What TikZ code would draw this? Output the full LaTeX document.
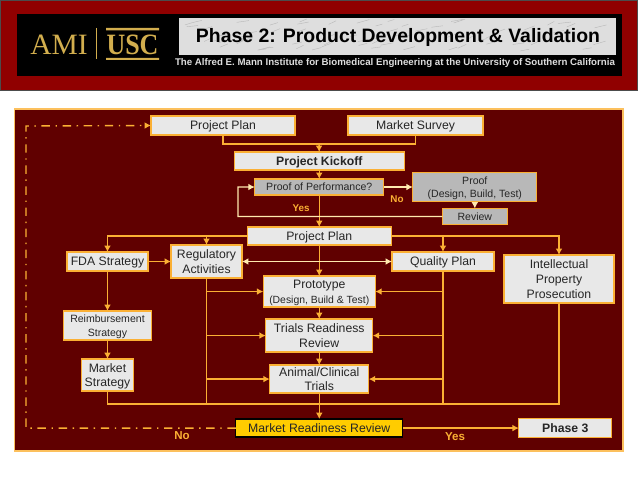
\documentclass[tikz,border=0pt]{standalone}
\usepackage{xcolor}
\usepackage{fontspec}
\setmainfont{Liberation Sans}
\newfontfamily\logofont{Liberation Serif}
\usetikzlibrary{positioning,arrows.meta,calc}
\definecolor{bannerRed}{HTML}{900000}
\definecolor{panelRed}{HTML}{600000}
\definecolor{lineOrange}{HTML}{FBB034}
\definecolor{linePale}{HTML}{FFE9AE}
\definecolor{boxGrey}{HTML}{E8E8E8}
\definecolor{proofGrey}{HTML}{B8B8B8}
\definecolor{marbleGrey}{HTML}{DEDEDE}
\definecolor{logoGold}{HTML}{D2AE4E}
\definecolor{reviewGold}{HTML}{FFCC00}

\begin{document}
\begin{tikzpicture}[
  x=0.025cm, y=-0.025cm,
  box/.style={rectangle, inner sep=0pt, outer sep=0pt, align=center, text depth=0pt, draw=lineOrange, line width=0.9pt, fill=boxGrey,
    font=\fontsize{8.7}{10.4}\selectfont, text=black!85},
  proofbox/.style={box, fill=proofGrey, font=\fontsize{7.5}{9}\selectfont},
  flow/.style={-{Latex[length=1.6mm,width=1.7mm]}, lineOrange, line width=1pt},
  link/.style={lineOrange, line width=1pt},
  pale/.style={-{Latex[length=1.6mm,width=1.7mm]}, linePale, line width=1pt},
  back/.style={-{Latex[length=1.6mm,width=1.7mm]}, lineOrange, line width=1pt, dash pattern=on 6pt off 4pt on 1pt off 4pt},
  lbl/.style={font=\bfseries\fontsize{8.2}{10}\selectfont, text=lineOrange}
]
  \useasboundingbox (0,0) rectangle (638,479);

  % banner
  \fill[bannerRed] (0,0) rectangle (638,90);
  \draw[black!70, line width=0.6pt] (0,0.5) rectangle (637.5,90);
  \fill[black] (17,14) rectangle (622,76);
  \fill[marbleGrey] (179,18) rectangle (616,55);
  \pgfmathsetseed{7}
  \foreach \i in {1,...,70}{
    \pgfmathsetmacro{\px}{185+rnd*415}
    \pgfmathsetmacro{\py}{21+rnd*30}
    \draw[gray!55, line width=0.3pt] (\px,\py) -- ++(6+rnd*7,-1-rnd*3);
  }
  \node[font=\bfseries\fontsize{13.8}{16}\selectfont] (title) at (398,37) {Phase 2: Product Development \& Validation};
  \node[font=\bfseries\fontsize{6.9}{8}\selectfont, text=marbleGrey] (subtitle) at (395,63)
    {The Alfred E. Mann Institute for Biomedical Engineering at the University of Southern California};
  \node[font=\logofont\fontsize{21}{22}\selectfont, text=logoGold, inner sep=0pt] (ami) at (59,45) {AMI};
  \node[font=\logofont\bfseries\fontsize{21}{22}\selectfont, text=logoGold, inner sep=0pt, xscale=0.88, transform shape] (usc) at (132.5,45) {USC};
  \draw[logoGold, line width=0.4pt] (96,28) -- (96,59);
  \fill[logoGold] (106,28) rectangle (159,30.5) (106,58) rectangle (159,60);

  % panel
  \draw[fill=panelRed, draw=lineOrange!80!white, line width=0.8pt] (14.5,109) rectangle (623,451);

  % centre column
  \node[box, minimum width=3.6cm, minimum height=0.475cm] (plan) at (223,125.5) {Project Plan};
  \node[box, minimum width=3.375cm, minimum height=0.475cm, right=1.325cm of plan] (survey) {Market Survey};
  \node[box, font=\bfseries\fontsize{8.7}{10.4}\selectfont, minimum width=4.25cm, minimum height=0.45cm,
    below=0.425cm of $(plan.south)!0.5!(survey.south)$] (kickoff) {Project Kickoff};
  \node[proofbox, minimum width=3.225cm, minimum height=0.4cm, below=0.225cm of kickoff] (perf) {Proof of Performance?};
  \node[proofbox, minimum width=3.1cm, minimum height=0.725cm, right=0.725cm of perf] (proof) {Proof\\(Design, Build, Test)};
  \node[proofbox, minimum width=1.625cm, minimum height=0.4cm, below=0.175cm of proof] (review) {Review};
  \node[box, minimum width=3.6cm, minimum height=0.45cm, below=0.8cm of perf] (plantwo) {Project Plan};
  \node[box, minimum width=2.8cm, minimum height=0.775cm, below=0.775cm of plantwo] (proto)
    {Prototype\\{\fontsize{7.4}{9}\selectfont(Design, Build \& Test)}};
  \node[box, minimum width=2.675cm, minimum height=0.825cm, below=0.3cm of proto] (trials) {Trials Readiness\\Review};
  \node[box, minimum width=2.475cm, minimum height=0.7cm, below=0.325cm of trials] (animal) {Animal/Clinical\\Trials};
  \node[box, fill=reviewGold, draw=black, minimum width=4.175cm, minimum height=0.45cm, below=0.65cm of animal] (market) {Market Readiness Review};
  \node[box, font=\bfseries\fontsize{8.7}{10.4}\selectfont, minimum width=2.325cm, minimum height=0.475cm, right=2.9cm of market] (phase) {Phase 3};

  % side columns
  \node[box, minimum width=1.775cm, minimum height=0.825cm] (reg) at (206.5,261.5) {Regulatory\\Activities};
  \node[box, minimum width=2.025cm, minimum height=0.475cm, left=0.575cm of reg] (fda) {FDA Strategy};
  \node[box, minimum width=2.55cm, minimum height=0.475cm] (quality) at (443,261.5) {Quality Plan};
  \node[box, minimum width=2.75cm, minimum height=1.2cm] (ip) at (559,279) {Intellectual\\Property\\Prosecution};
  \node[box, font=\fontsize{7.5}{9.6}\selectfont, minimum width=2.2cm, minimum height=0.725cm, below=1cm of fda] (reimb) {Reimbursement\\Strategy};
  \node[box, minimum width=1.3cm, minimum height=0.8cm, below=0.475cm of reimb] (mstrat) {Market\\Strategy};

  \coordinate (join) at (319,144);
  \coordinate (bus) at (319,404);
  \coordinate (loop) at (238,187);
  \coordinate (backcorner) at (26,126);

  % connectors
  \draw[link] (plan.south) |- (join);
  \draw[link] (survey.south) |- (join);
  \draw[flow] (join) -- (kickoff.north);
  \draw[flow] (kickoff.south) -- (perf.north);
  \draw[flow] (perf.south) -- (plantwo.north);
  \draw[pale] (perf.east) -- (proof.west);
  \draw[pale] (proof.south) -- (review.north);
  \draw[pale] (review.west) -| (loop) -- (perf.west);

  \draw[flow] (plantwo.west) -| (fda.north);
  \draw[flow] (reg.north |- plantwo.west) -- (reg.north);
  \draw[flow] (plantwo.east) -| (ip.north);
  \draw[flow] (quality.north |- plantwo.east) -- (quality.north);
  \draw[flow] (plantwo.south) -- (proto.north);
  \draw[pale, {Latex[length=1.6mm,width=1.7mm]}-{Latex[length=1.6mm,width=1.7mm]}] (reg.east) -- (quality.west);

  \draw[flow] (fda.east) -- (reg.west);
  \draw[flow] (fda.south) -- (reimb.north);
  \draw[flow] (reimb.south) -- (mstrat.north);
  \draw[flow] (proto.south) -- (trials.north);
  \draw[flow] (trials.south) -- (animal.north);
  \draw[flow] (animal.south) -- (market.north);

  \foreach \n in {reg,quality}{ \draw[link] (\n.south) -- (\n.south |- bus); }
  \foreach \n in {mstrat,ip}{ \draw[link] (\n.south) |- (bus); }
  \foreach \n in {proto,trials,animal}{
    \draw[flow] (reg.south |- \n.west) -- (\n.west);
    \draw[flow] (quality.south |- \n.east) -- (\n.east);
  }

  \draw[flow] (market.east) -- (phase.west);
  \draw[back] (market.west) -| (backcorner) -- (plan.west);

  % labels
  \node[lbl, font=\bfseries\fontsize{7}{8}\selectfont] (yesup) at (301,208.5) {Yes};
  \node[lbl, font=\bfseries\fontsize{7}{8}\selectfont] (noup) at (397,199.5) {No};
  \node[lbl] (nodown) at (182,436) {No};
  \node[lbl] (yesdown) at (455,437) {Yes};
\end{tikzpicture}
\end{document}
